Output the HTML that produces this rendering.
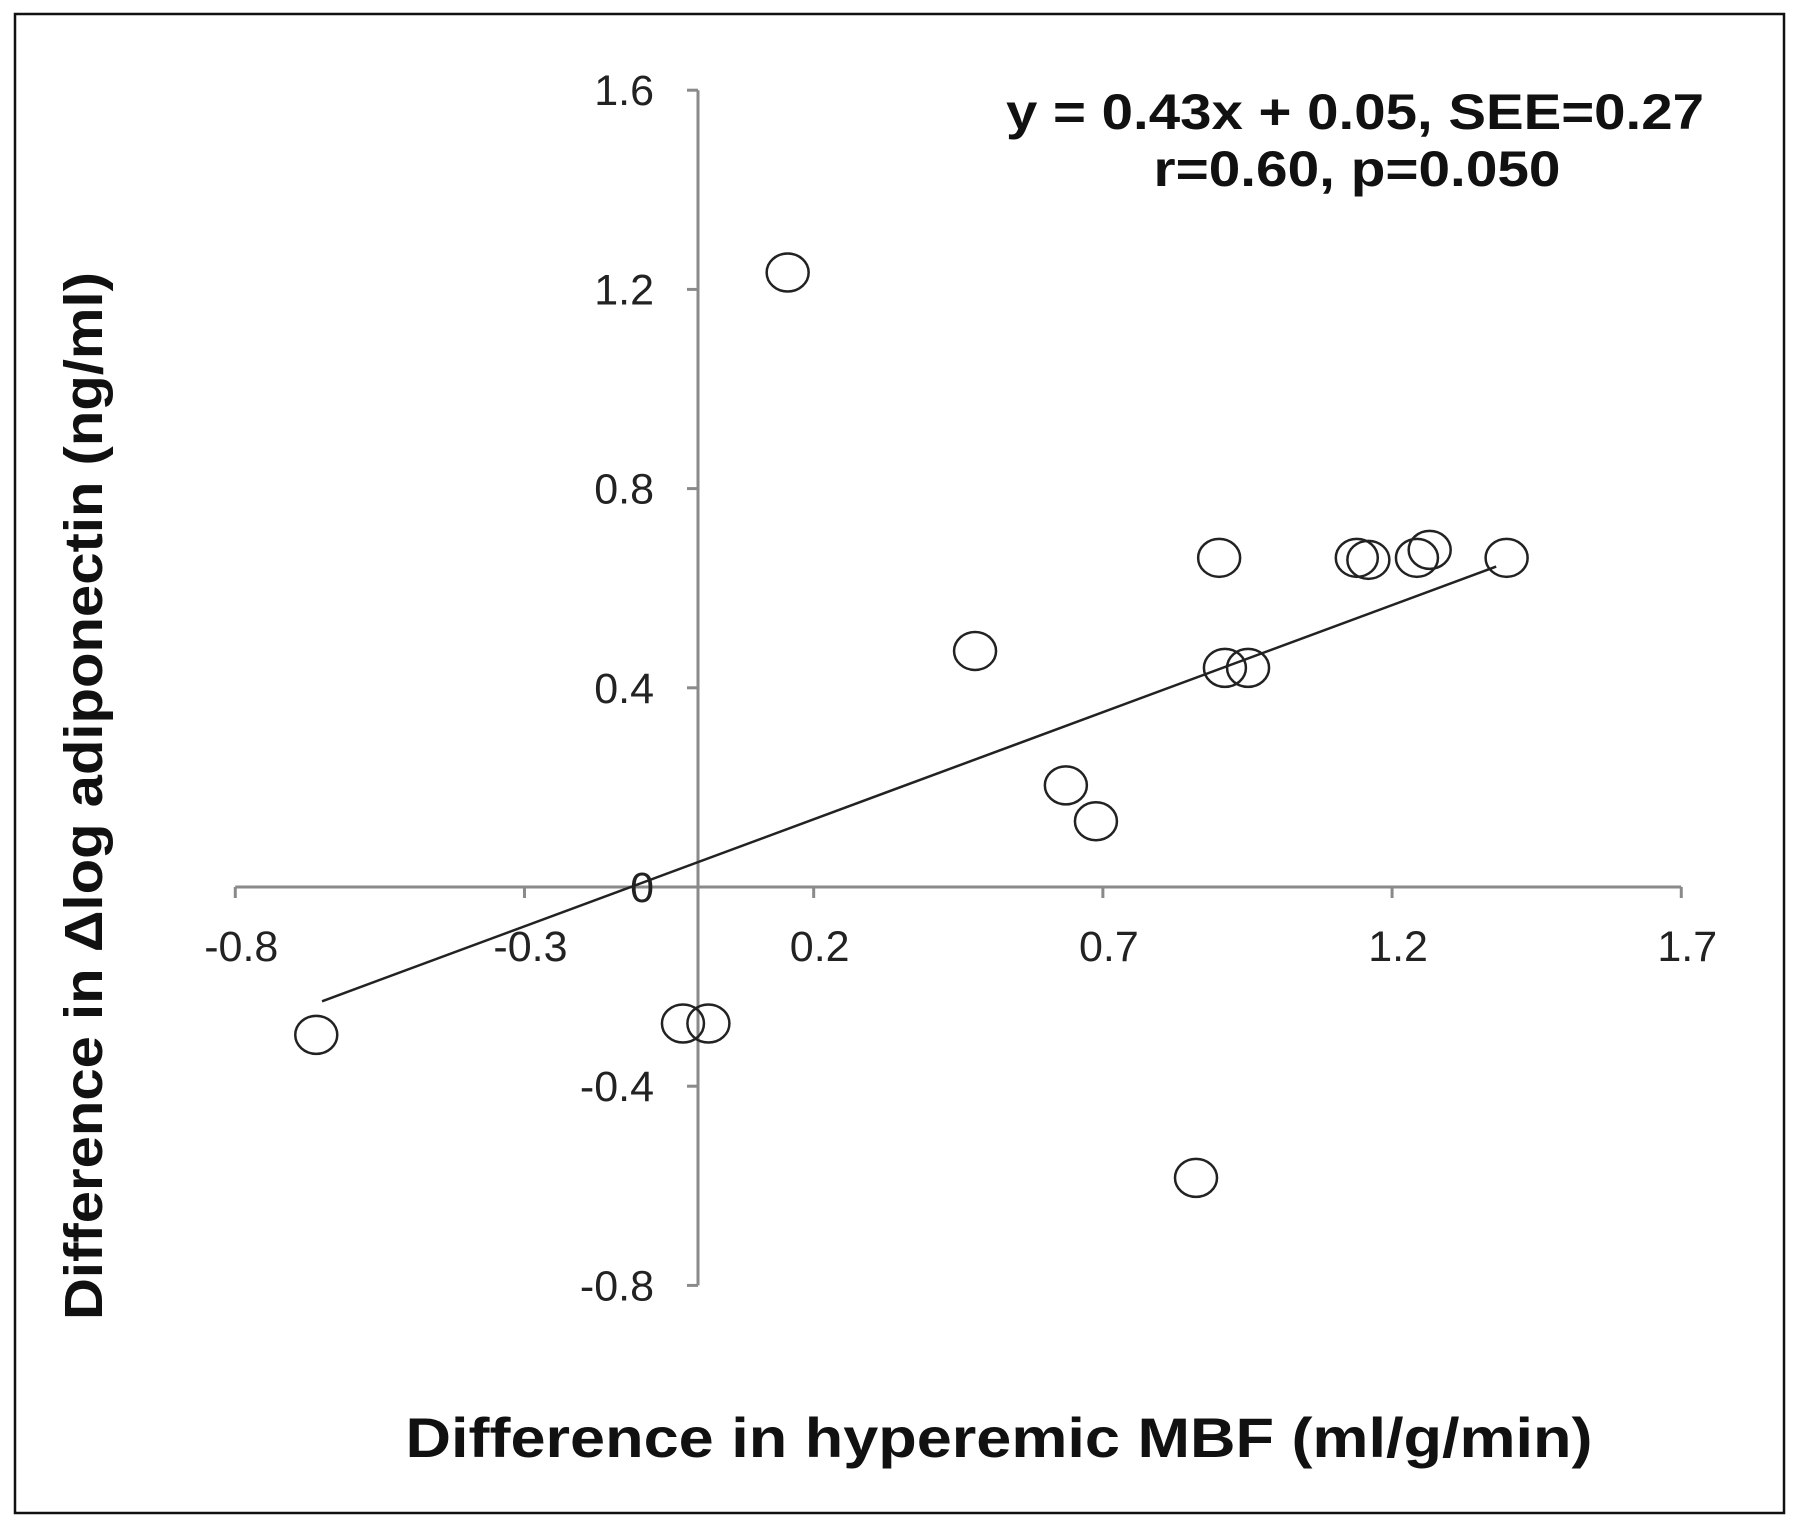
<!DOCTYPE html>
<html><head><meta charset="utf-8"><style>
body{margin:0;background:#fff;}
svg text{font-family:"Liberation Sans",Arial,sans-serif;}
</style></head><body>
<svg id="chart" width="1800" height="1528" viewBox="0 0 1800 1528" xmlns="http://www.w3.org/2000/svg">
<rect x="15" y="14" width="1769" height="1499" fill="#fff" stroke="#111" stroke-width="2.5"/>
<g id="axes"></g>
<g id="marks"></g>
<text x="1355" y="129" font-size="50" font-weight="bold" text-anchor="middle" textLength="698" lengthAdjust="spacingAndGlyphs" fill="#111">y = 0.43x + 0.05, SEE=0.27</text>
<text x="1357" y="186" font-size="50" font-weight="bold" text-anchor="middle" textLength="407" lengthAdjust="spacingAndGlyphs" fill="#111">r=0.60, p=0.050</text>
<text x="999" y="1457" font-size="56" font-weight="bold" text-anchor="middle" textLength="1187" lengthAdjust="spacingAndGlyphs" fill="#111">Difference in hyperemic MBF (ml/g/min)</text>
<text transform="translate(102,796) rotate(-90)" font-size="54" font-weight="bold" text-anchor="middle" textLength="1048" lengthAdjust="spacingAndGlyphs" fill="#111">Difference in Δlog adiponectin (ng/ml)</text>
</svg>
<script>
const xTicks = [-0.8, -0.3, 0.2, 0.7, 1.2, 1.7];
const xTickLabels = ["-0.8", "-0.3", "0.2", "0.7", "1.2", "1.7"];
const yTicks = [1.6, 1.2, 0.8, 0.4, 0, -0.4, -0.8];
const yTickLabels = ["1.6", "1.2", "0.8", "0.4", "0", "-0.4", "-0.8"];
const xValues = [-0.66, -0.026, 0.018, 0.155, 0.479, 0.636, 0.688, 0.901, 0.911, 0.951, 0.861, 1.139, 1.159, 1.243, 1.265, 1.398];
const yValues = [-0.297, -0.274, -0.274, 1.234, 0.474, 0.204, 0.132, 0.661, 0.44, 0.44, -0.584, 0.661, 0.657, 0.661, 0.677, 0.661];
const slope = 0.43;
const intercept = 0.05;
const fitRange = [-0.65, 1.38];

const NS = "http://www.w3.org/2000/svg";
const X0 = 698, XS = 578.4, Y0 = 887, YS = 498;
const sx = v => X0 + v * XS;
const sy = v => Y0 - v * YS;
const axes = document.getElementById('axes');
const marks = document.getElementById('marks');
function mk(tag, attrs, parent) {
  const e = document.createElementNS(NS, tag);
  for (const k in attrs) e.setAttribute(k, attrs[k]);
  parent.appendChild(e);
  return e;
}
const ax = "#8a8a8a";
const xAxis = mk('line', {x1: sx(xTicks[0]), x2: sx(xTicks[xTicks.length-1]), y1: sy(0), y2: sy(0), stroke: ax, 'stroke-width': 3}, axes);


const yAxis = mk('line', {x1: sx(0), x2: sx(0), y1: sy(yTicks[0]), y2: sy(yTicks[yTicks.length-1]), stroke: ax, 'stroke-width': 3}, axes);


xTicks.forEach((t, i) => {
  const tk = mk('line', {x1: sx(t), x2: sx(t), y1: sy(0), y2: sy(0) + 11, stroke: ax, 'stroke-width': 3}, axes);
  
  
  const lb = mk('text', {x: sx(t) + 6, y: sy(0) + 74, 'font-size': 43, 'text-anchor': 'middle', fill: '#222'}, axes);
  lb.textContent = xTickLabels[i];
  
  
});
yTicks.forEach((t, i) => {
  const tk = mk('line', {x1: sx(0) - 11, x2: sx(0), y1: sy(t), y2: sy(t), stroke: ax, 'stroke-width': 3}, axes);
  
  
  const lb = mk('text', {x: sx(0) - 44, y: sy(t) + 15, 'font-size': 43, 'text-anchor': 'end', fill: '#222'}, axes);
  lb.textContent = yTickLabels[i];
  
  
});
const fit = mk('line', {x1: sx(fitRange[0]), y1: sy(slope*fitRange[0]+intercept), x2: sx(fitRange[1]), y2: sy(slope*fitRange[1]+intercept), stroke: '#222', 'stroke-width': 2.5}, marks);


xValues.forEach((xv, i) => {
  const c = mk('ellipse', {cx: sx(xv), cy: sy(yValues[i]), rx: 21, ry: 19, fill: 'none', stroke: '#222', 'stroke-width': 2.5}, marks);
  
  
});
</script>
</body></html>
